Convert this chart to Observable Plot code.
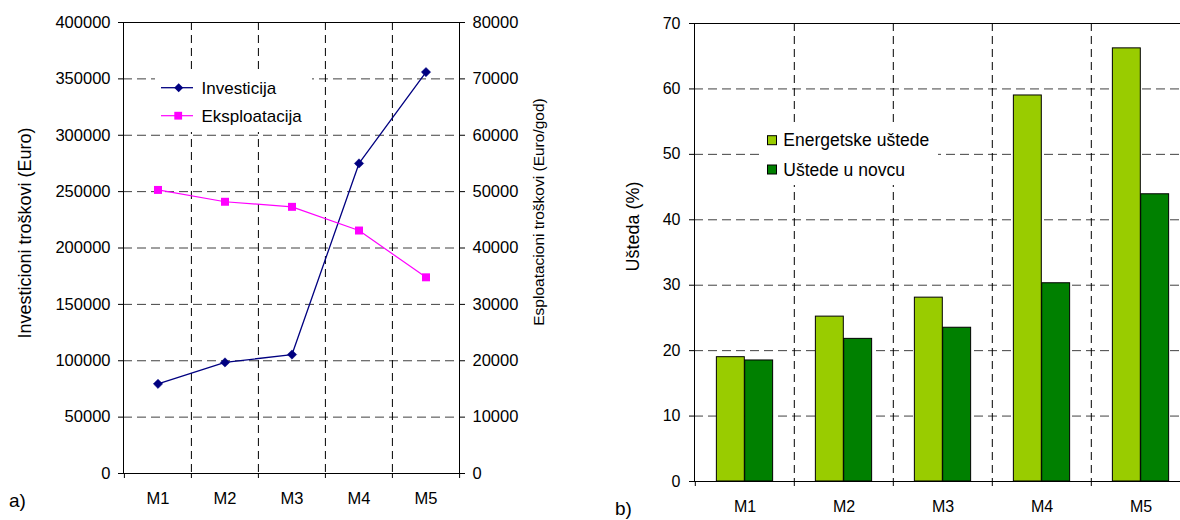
<!DOCTYPE html>
<html>
<head>
<meta charset="utf-8">
<script src="https://cdn.jsdelivr.net/npm/d3@7"></script>
<script src="https://cdn.jsdelivr.net/npm/@observablehq/plot@0.6"></script>
<style>
html,body{margin:0;padding:0;background:#fff;}
#root{position:relative;width:1180px;height:520px;overflow:hidden;font-family:Arial,"Liberation Sans",sans-serif;color:#000;background:#fff;}
.panel{position:absolute;top:0;}
#overlay{position:absolute;left:0;top:0;pointer-events:none;}
</style>
</head>
<body>
<div id="root">
  <div id="pa" class="panel" style="left:0;width:580px;"></div>
  <div id="pb" class="panel" style="left:580px;width:611px;"></div>
</div>
<script>
// ---- data ----
const categories = ["M1", "M2", "M3", "M4", "M5"];
const seriesA = ["Investicija", "Eksploatacija"];
const investicija = [79500, 98500, 105500, 275000, 356000];      // Euro (left axis)
const eksploatacija = [50300, 48200, 47300, 43100, 34800];       // Euro/god (right axis)
const leftTicks = [0, 50000, 100000, 150000, 200000, 250000, 300000, 350000, 400000];
const rightTicks = [0, 10000, 20000, 30000, 40000, 50000, 60000, 70000, 80000];
const leftTitle = "Investicioni troškovi (Euro)";
const rightTitle = "Esploatacioni troškovi (Euro/god)";

const seriesB = ["Energetske uštede", "Uštede u novcu"];
const energetske = [19.0, 25.2, 28.1, 59.0, 66.2];
const novac = [18.5, 21.8, 23.5, 30.3, 43.9];
const savingTicks = [0, 10, 20, 30, 40, 50, 60, 70];
const savingTitle = "Ušteda (%)";
const panelLabels = ["a)", "b)"];

// ---- styles ----
const FONT = "Arial, 'Liberation Sans', sans-serif";
const colInv = "#000080", colEks = "#ff00ff";
const colEn = "#99cc00", colNo = "#008000";
const H = 520;

// ---- panel a ----
const W1 = 580, mL1 = 123, mR1 = 121, mT1 = 22, mB1 = 47;
const bw1 = (W1 - mL1 - mR1) / categories.length;
const k = leftTicks[leftTicks.length - 1] / rightTicks[rightTicks.length - 1];
const invData = categories.map((c, i) => ({cat: c, v: investicija[i]}));
const eksData = categories.map((c, i) => ({cat: c, v: eksploatacija[i]}));
const last = categories[categories.length - 1];

const plotA = Plot.plot({
  width: W1, height: H,
  marginLeft: mL1, marginRight: mR1, marginTop: mT1, marginBottom: mB1,
  style: {fontFamily: FONT, fontSize: "16.5px", color: "#000", background: "#fff"},
  x: {type: "band", domain: categories, padding: 0},
  y: {domain: [0, leftTicks[leftTicks.length - 1]]},
  marks: [
    Plot.gridY(leftTicks.slice(1, -1), {stroke: "#404040", strokeOpacity: 1, strokeDasharray: "9,5"}),
    Plot.ruleX(categories.slice(1), {x: d => d, dx: -bw1 / 2, stroke: "#000", strokeDasharray: "8,5"}),
    Plot.frame({stroke: "#000"}),
    Plot.axisY(leftTicks, {anchor: "left", tickSize: 5, tickPadding: 8, tickFormat: d3.format("d"), label: null}),
    Plot.axisY(rightTicks.map(v => v * k), {anchor: "right", tickSize: 5, tickPadding: 8, tickFormat: d => d3.format("d")(d / k), label: null}),
    Plot.axisX({anchor: "bottom", tickSize: 0, tickPadding: 19, label: null}),
    Plot.ruleX(categories, {x: d => d, dx: -bw1 / 2, y1: 0, y2: 0, insetBottom: -5, stroke: "#000"}),
    Plot.ruleX([last], {x: d => d, dx: bw1 / 2, y1: 0, y2: 0, insetBottom: -5, stroke: "#000"}),
    Plot.line(invData, {x: "cat", y: "v", stroke: colInv, strokeWidth: 1.3}),
    Plot.dot(invData, {x: "cat", y: "v", symbol: "diamond2", r: 4.2, fill: colInv, stroke: colInv, strokeWidth: 0.5}),
    Plot.line(eksData, {x: "cat", y: d => d.v * k, stroke: colEks, strokeWidth: 1.2}),
    Plot.dot(eksData, {x: "cat", y: d => d.v * k, symbol: "square", r: 4.5, fill: colEks}),
    Plot.text([leftTitle], {text: d => d, frameAnchor: "left", textAnchor: "middle", rotate: -90, dx: 25 - mL1, dy: -15, fontSize: 18}),
    Plot.text([rightTitle], {text: d => d, frameAnchor: "right", textAnchor: "middle", rotate: -90, dx: 80, dy: -36, fontSize: 15.5})
  ]
});
document.getElementById("pa").appendChild(plotA);

// ---- panel b ----
const W2 = 611, mL2 = 114, mR2 = 0, mT2 = 23, mB2 = 39;
const bw2 = (W2 - mL2 - mR2) / categories.length;
const barW = bw2 * 0.285;
const enData = categories.map((c, i) => ({cat: c, v: energetske[i]}));
const noData = categories.map((c, i) => ({cat: c, v: novac[i]}));

const plotB = Plot.plot({
  width: W2, height: H,
  marginLeft: mL2, marginRight: mR2, marginTop: mT2, marginBottom: mB2,
  style: {fontFamily: FONT, fontSize: "16px", color: "#000", background: "#fff"},
  x: {type: "band", domain: categories, padding: 0},
  y: {domain: [0, savingTicks[savingTicks.length - 1]]},
  marks: [
    Plot.gridY(savingTicks.slice(1, -1), {stroke: "#404040", strokeOpacity: 1, strokeDasharray: "9,5"}),
    Plot.ruleX(categories.slice(1), {x: d => d, dx: -bw2 / 2, stroke: "#000", strokeDasharray: "8,5"}),
    Plot.barY(enData, {x: "cat", y: "v", fill: colEn, stroke: "#000", strokeWidth: 1, insetLeft: bw2 / 2 - barW, insetRight: bw2 / 2}),
    Plot.barY(noData, {x: "cat", y: "v", fill: colNo, stroke: "#000", strokeWidth: 1, insetLeft: bw2 / 2, insetRight: bw2 / 2 - barW}),
    Plot.frame({stroke: "#000"}),
    Plot.axisY(savingTicks, {anchor: "left", tickSize: 5, tickPadding: 9, label: null}),
    Plot.axisX({anchor: "bottom", tickSize: 0, tickPadding: 19, label: null}),
    Plot.ruleX(categories, {x: d => d, dx: -bw2 / 2, y1: 0, y2: 0, insetBottom: -5, stroke: "#000"}),
    Plot.text([savingTitle], {text: d => d, frameAnchor: "left", textAnchor: "middle", rotate: -90, dx: 633 - 580 - mL2, dy: -26, fontSize: 18})
  ]
});
document.getElementById("pb").appendChild(plotB);

// ---- legends & panel labels (overlay) ----
const ns = "http://www.w3.org/2000/svg";
const ov = document.createElementNS(ns, "svg");
ov.setAttribute("id", "overlay");
ov.setAttribute("width", 1180);
ov.setAttribute("height", 520);
ov.setAttribute("font-family", FONT);
function el(tag, attrs, txt) {
  const e = document.createElementNS(ns, tag);
  for (const a in attrs) e.setAttribute(a, attrs[a]);
  if (txt != null) e.textContent = txt;
  ov.appendChild(e);
  return e;
}
// legend a
el("rect", {x: 155, y: 71, width: 157, height: 61, fill: "#fff"});
el("line", {x1: 161, x2: 193, y1: 87.7, y2: 87.7, stroke: colInv, "stroke-width": 1.3});
el("path", {d: "M178.7,83.2L183.2,87.7L178.7,92.2L174.2,87.7Z", fill: colInv});
el("text", {x: 201.5, y: 93.8, "font-size": 17, fill: "#000"}, seriesA[0]);
el("line", {x1: 161, x2: 193, y1: 115.7, y2: 115.7, stroke: colEks, "stroke-width": 1.2});
el("rect", {x: 174.3, y: 111.8, width: 7.8, height: 7.8, fill: colEks});
el("text", {x: 201.5, y: 121.8, "font-size": 17, fill: "#000"}, seriesA[1]);
// legend b
el("rect", {x: 762, y: 123, width: 176, height: 62, fill: "#fff"});
el("rect", {x: 767.5, y: 135.7, width: 9, height: 9, fill: colEn, stroke: "#000", "stroke-width": 1});
el("text", {x: 783.3, y: 146.4, "font-size": 17.5, fill: "#000"}, seriesB[0]);
el("rect", {x: 767.5, y: 165, width: 9, height: 9, fill: colNo, stroke: "#000", "stroke-width": 1});
el("text", {x: 783.3, y: 175.7, "font-size": 17.5, fill: "#000"}, seriesB[1]);
// panel labels
el("text", {x: 9, y: 507, "font-size": 19, fill: "#000"}, panelLabels[0]);
el("text", {x: 615, y: 515, "font-size": 19, fill: "#000"}, panelLabels[1]);
document.getElementById("root").appendChild(ov);
</script>
</body>
</html>
